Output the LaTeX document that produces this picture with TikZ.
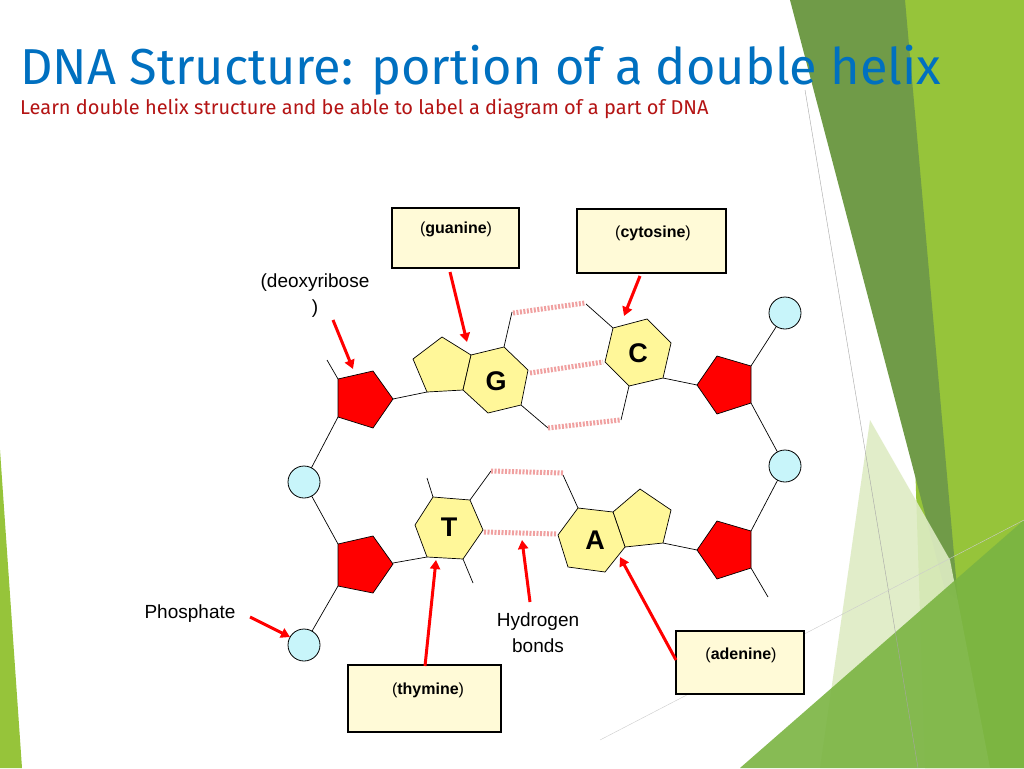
\documentclass[tikz,border=0pt]{standalone}
\usepackage{fontspec}
\setmainfont{Liberation Sans}
\newfontfamily\titlefont{Fira Sans}
\usetikzlibrary{arrows.meta}
\definecolor{ttl}{RGB}{0,112,192}
\definecolor{sub}{RGB}{180,20,20}
\definecolor{sugar}{RGB}{255,0,0}
\definecolor{basefill}{RGB}{255,247,153}
\definecolor{phos}{RGB}{200,245,250}
\definecolor{hb}{RGB}{240,160,160}
\definecolor{boxfill}{RGB}{255,250,215}
\definecolor{gdark}{RGB}{112,155,72}
\definecolor{gmid}{RGB}{122,180,66}
\definecolor{gbright}{RGB}{150,196,58}
\definecolor{gpale}{RGB}{222,236,196}
\begin{document}
\begin{tikzpicture}[x=1pt,y=-1pt,
  sug/.style={fill=sugar,draw=black,line width=0.7pt,line join=miter},
  bas/.style={fill=basefill,draw=black,line width=0.7pt},
  ph/.style={circle,fill=phos,draw=black,line width=0.8pt,minimum size=32pt,inner sep=0pt},
  bond/.style={draw=black,line width=0.7pt},
  hbond/.style={draw=hb,line width=5pt,dash pattern=on 2pt off 1.5pt},
  lbox/.style={draw=black,line width=2pt,fill=boxfill},
  lab/.style={font=\fontsize{16}{18}\selectfont,inner sep=0pt},
  plain/.style={font=\fontsize{19}{26}\selectfont,align=center,inner sep=0pt},
  arr/.style={draw=red,line width=3pt,-{Triangle[length=9pt,width=10pt]}},
  letter/.style={font=\fontsize{27}{27}\selectfont\bfseries,inner sep=0pt}]
\useasboundingbox (0,0) rectangle (1024,768);
\fill[white] (0,0) rectangle (1024,768);
% background
\fill[gbright] (900,0) -- (1024,0) -- (1024,768) -- (925,768) -- cycle;
\fill[gdark] (790,0) -- (905,0) -- (958,600) -- (945,590) -- cycle;
\fill[gpale,opacity=0.9] (870,420) -- (950,560) -- (990,768) -- (820,768) -- cycle;
\fill[gmid,opacity=0.9] (740,768) -- (1024,520) -- (1024,768) -- cycle;
\fill[gbright] (0,450) -- (22,768) -- (0,768) -- cycle;
\draw[gray!70,line width=0.4pt] (805,90) -- (918,768);
\draw[gray!40,line width=0.4pt] (600,740) -- (1024,520);
% title
\node[anchor=base west,text=ttl,inner sep=0pt,font=\titlefont\fontsize{50.5}{54}\selectfont] (title) at (20,84) {DNA Structure: portion of a double helix};
\node[anchor=base west,text=sub,inner sep=0pt,font=\titlefont\fontsize{20}{22}\selectfont] (subt) at (20,114) {Learn double helix structure and be able to label a diagram of a part of DNA};
% backbone lines
\coordinate (s1) at (327,360); \coordinate (s2) at (768,597);
\draw[bond] (s1) -- (338,379);
\draw[bond] (304,482) -- (338,417);
\draw[bond] (304,482) -- (338,544);
\draw[bond] (304,645) -- (338,586);
\draw[bond] (785,313) -- (751,366);
\draw[bond] (785,466) -- (751,403);
\draw[bond] (785,466) -- (751,531);
\draw[bond] (751,568) -- (s2);
% base connections and stubs
\draw[bond] (393,399) -- (427,392);
\draw[bond] (663,378) -- (697,385);
\draw[bond] (427,557) -- (393,563);
\draw[bond] (663,543) -- (697,550);
\draw[bond] (504,347) -- (512,312);
\draw[bond] (521,405) -- (548,428);
\draw[bond] (613,328) -- (586,304);
\draw[bond] (629,386) -- (621,420);
\draw[bond] (433,497) -- (427,478);
\draw[bond] (470,500) -- (491,471);
\draw[bond] (463,559) -- (473,583);
\draw[bond] (578,508) -- (563,475);
% hydrogen bonds
\draw[hbond] (513,313) -- (585,303);
\draw[hbond] (530,373) -- (603,362);
\draw[hbond] (548,428) -- (620,420);
\draw[hbond] (491,471) -- (563,473);
\draw[hbond] (484,532) -- (557,534);
% sugars
\draw[sug] (338,379) -- (373,371) -- (393,399) -- (373,428) -- (338,417) -- cycle;
\draw[sug] (338,544) -- (373,536) -- (393,564) -- (373,593) -- (338,586) -- cycle;
\draw[sug] (697,385) -- (717,356) -- (751,366) -- (751,403) -- (717,414) -- cycle;
\draw[sug] (697,550) -- (717,521) -- (751,531) -- (751,568) -- (717,579) -- cycle;
% phosphates
\node[ph] (p1) at (304,482) {};
\node[ph] (p2) at (304,645) {};
\node[ph] (p3) at (785,313) {};
\node[ph] (p4) at (785,466) {};
% bases
\draw[bas] (413,359) -- (442,337) -- (471,355) -- (463,390) -- (427,392) -- cycle;
\draw[bas] (471,355) -- (504,347) -- (528,370) -- (521,405) -- (488,413) -- (463,390) -- cycle;
\node[letter] (G) at (496,381) {G};
\draw[bas] (613,328) -- (647,319) -- (671,343) -- (663,378) -- (629,386) -- (605,362) -- cycle;
\node[letter] (C) at (638,353) {C};
\draw[bas] (415,525) -- (433,497) -- (470,500) -- (483,530) -- (463,559) -- (427,557) -- cycle;
\node[letter] (T) at (449,527) {T};
\draw[bas] (613,512) -- (640,489) -- (671,510) -- (663,543) -- (625,547) -- cycle;
\draw[bas] (558,535) -- (578,508) -- (613,512) -- (625,547) -- (605,572) -- (568,567) -- cycle;
\node[letter] (A) at (595,540) {A};
% label boxes
\draw[lbox] (392,208) rectangle (519,268);
\node[lab] (lg) at (456,229) {(\textbf{guanine})};
\draw[lbox] (577,209) rectangle (726,273);
\node[lab] (lc) at (653,233) {(\textbf{cytosine})};
\draw[lbox] (348,665) rectangle (501,732);
\node[lab] (lt) at (428,690) {(\textbf{thymine})};
\draw[lbox] (676,631) rectangle (804,694);
\node[lab] (la) at (741,655) {(\textbf{adenine})};
\node[plain] (ld) at (315,296) {(deoxyribose\\)};
\node[plain] (lp) at (190,614) {Phosphate};
\node[plain] (lh) at (538,633) {Hydrogen\\bonds};
% arrows
\coordinate (ag1) at (450,272); \coordinate (ag2) at (467,342);
\coordinate (ac1) at (640,276); \coordinate (ac2) at (624,316);
\coordinate (ad1) at (333,320); \coordinate (ad2) at (353,369);
\coordinate (ap1) at (250,617); \coordinate (ap2) at (290,637);
\coordinate (at1) at (425,666); \coordinate (at2) at (436,560);
\coordinate (ah1) at (530,602); \coordinate (ah2) at (522,540);
\coordinate (aa1) at (676,660); \coordinate (aa2) at (620,557);
\draw[arr] (ag1) -- (ag2);
\draw[arr] (ac1) -- (ac2);
\draw[arr] (ad1) -- (ad2);
\draw[arr] (ap1) -- (ap2);
\draw[arr] (at1) -- (at2);
\draw[arr] (ah1) -- (ah2);
\draw[arr] (aa1) -- (aa2);
\end{tikzpicture}
\end{document}
